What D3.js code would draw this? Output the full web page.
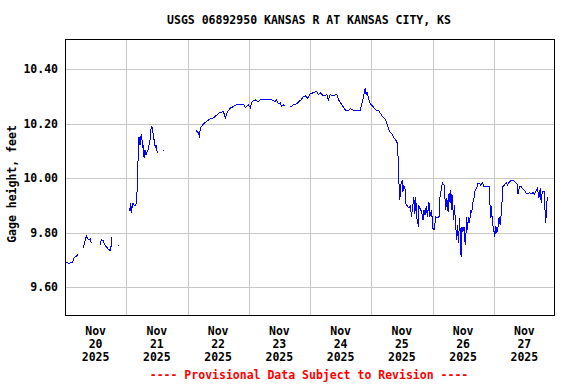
<!DOCTYPE html>
<html>
<head>
<meta charset="utf-8">
<script src="https://cdn.jsdelivr.net/npm/d3@7"></script>
<style>
  html, body { margin: 0; padding: 0; background: #fff; }
  svg text { font-family: "DejaVu Sans Mono", monospace; font-weight: bold; font-size: 11.5px; }
</style>
</head>
<body>
<div id="chart"></div>
<script>
// gage height readings, hours after 2025-11-20 00:00; null = no data (gap)
var hours = [
  0.2, 0.4, 1.8, 2.6, 3.1, 3.7, 4.2, 5.1, 6.1,
  7.1, 8.0, 8.4, 9.0, 9.5, 9.9, 10.3, 10.6, 12.0,
  13.7, 14.2, 15.0, 15.6, 16.8, 17.9, 18.3, 19.5,
  20.9, 23.0,
  25.2, 25.5, 25.8, 26.1, 26.4, 26.7, 27.2, 27.8,
  28.3, 28.4, 28.8, 29.0, 29.4, 29.7, 30.0, 30.4,
  30.7, 31.0, 31.3, 31.7, 32.6, 33.3, 33.8, 34.2,
  34.6, 34.9, 35.4, 35.7, 36.2, 37.3,
  38.5, 45.0,
  51.4, 52.4, 52.7, 53.0, 54.2, 55.6, 56.9, 58.2,
  59.5, 60.8, 62.1, 62.8, 63.6, 64.7, 66.0, 67.4,
  68.7, 70.0, 70.6, 71.9, 72.6, 73.3, 74.6, 75.5,
  76.5, 77.8, 80.2, 81.0, 82.3, 82.8, 83.6, 84.3,
  84.9, 85.6, 86.0, 87.1,
  88.2, 89.5, 90.8, 91.7, 92.7, 93.4, 94.3, 95.1,
  96.0, 97.3, 98.6, 99.3, 100.1, 101.3, 102.6, 103.2,
  103.9, 105.2, 106.5, 107.2, 108.5, 109.1, 110.0, 111.1,
  111.8, 113.1, 115.7, 116.3, 117.0, 117.6, 118.0, 118.3,
  118.9, 119.6, 120.9, 121.6, 123.0, 123.7, 124.6, 125.3,
  125.9, 126.7, 127.2, 128.0, 128.5, 129.3, 129.8, 130.3,
  130.6, 130.8, 131.2, 131.5, 132.2, 132.4, 132.8, 133.2,
  133.5, 134.1, 134.8, 135.3, 135.8, 136.1, 136.7, 137.1,
  137.4, 137.9, 138.5, 138.7, 139.4, 139.8, 140.3, 140.7,
  141.1, 141.6, 142.0, 142.6, 143.0, 143.7, 144.0, 144.6,
  145.3, 145.9, 146.6, 146.9, 147.5, 147.9, 148.5, 149.2,
  149.6, 150.1, 150.5, 150.9, 151.2, 151.5, 151.8, 152.2,
  152.6, 153.1, 153.5, 153.9, 154.2, 154.6, 154.9, 155.2,
  155.5, 155.9, 156.4, 156.8, 157.1, 157.4, 157.7, 158.1,
  158.5, 159.0, 159.4, 159.7, 160.3, 160.7, 161.4, 161.6,
  162.3, 162.9, 163.6, 164.2, 166.2, 166.6, 166.9, 167.1,
  167.5, 167.9, 168.4, 168.8, 169.2, 169.7, 170.1, 170.5,
  171.1, 171.5, 172.2, 172.9, 173.4, 173.9, 174.8, 175.8,
  176.6, 177.1, 177.5, 178.1, 178.8, 179.4, 180.1, 180.7,
  181.4, 182.1, 182.6, 183.4, 184.0, 184.7, 185.1, 185.7,
  186.2, 186.6, 187.0, 187.7, 188.0, 188.4, 188.6, 189.0
];
var gage = [
  9.664, 9.689, 9.688, 9.690, 9.694, 9.710, 9.711, 9.721, null,
  9.743, 9.774, 9.788, 9.777, 9.774, 9.777, 9.763, 9.761, null,
  9.755, 9.774, 9.771, 9.755, 9.741, 9.733, 9.783, null,
  9.755, null,
  9.890, 9.880, 9.908, 9.872, 9.906, 9.906, 9.898, 9.902,
  9.957, 10.049, 10.074, 10.150, 10.122, 10.153, 10.163, 10.110,
  10.122, 10.073, 10.104, 10.086, 10.104, 10.140, 10.189, 10.185,
  10.159, 10.141, 10.110, 10.122, 10.092, null,
  10.103, null,
  10.174, 10.166, 10.148, 10.183, 10.198, 10.210, 10.218, 10.222,
  10.232, 10.242, 10.244, 10.222, 10.243, 10.257, 10.263, 10.272,
  10.272, 10.271, 10.259, 10.269, 10.259, 10.281, 10.287, 10.281,
  10.287, 10.290, 10.290, 10.287, 10.281, 10.287, 10.273, 10.277,
  10.263, 10.269, 10.264, null,
  10.261, 10.269, 10.273, 10.281, 10.290, 10.299, 10.302, 10.294,
  10.309, 10.314, 10.318, 10.306, 10.313, 10.302, 10.306, 10.287,
  10.306, 10.302, 10.309, 10.287, 10.269, 10.261, 10.248, 10.248,
  10.256, 10.248, 10.248, 10.273, 10.299, 10.330, 10.306, 10.317,
  10.294, 10.273, 10.261, 10.251, 10.248, 10.236, 10.224, 10.220,
  10.208, 10.184, 10.171, 10.163, 10.155, 10.143, 10.138, 10.126,
  10.057, 9.994, 9.920, 9.975, 9.994, 9.951, 9.972, 9.964,
  9.908, 9.898, 9.890, 9.898, 9.859, 9.886, 9.930, 9.869,
  9.930, 9.853, 9.822, 9.896, 9.884, 9.872, 9.847, 9.884,
  9.865, 9.898, 9.859, 9.914, 9.859, 9.884, 9.817, 9.810,
  9.857, 9.854, 9.859, 9.930, 9.963, 9.982, 9.975, 9.884,
  9.927, 9.877, 9.945, 9.908, 9.957, 9.884, 9.939, 9.847,
  9.902, 9.822, 9.774, 9.829, 9.761, 9.853, 9.792, 9.712,
  9.822, 9.803, 9.822, 9.755, 9.792, 9.859, 9.810, 9.859,
  9.836, 9.884, 9.872, 9.908, 9.927, 9.957, 9.963, 9.982,
  9.982, 9.975, 9.982, 9.969, 9.969, 9.890, 9.853, 9.896,
  9.835, 9.817, 9.786, 9.825, 9.799, 9.822, 9.859, 9.829,
  9.884, 9.969, 9.975, 9.984, 9.975, 9.983, 9.991, 9.991,
  9.984, 9.979, 9.942, 9.969, 9.969, 9.960, 9.955, 9.945,
  9.942, 9.947, 9.942, 9.947, 9.942, 9.955, 9.963, 9.927,
  9.963, 9.908, 9.951, 9.951, 9.896, 9.835, 9.884, 9.930
];
var yTicks = [9.6, 9.8, 10.0, 10.2, 10.4];
var dayLabels = ["20", "21", "22", "23", "24", "25", "26", "27"];
var title = "USGS 06892950 KANSAS R AT KANSAS CITY, KS";
var yTitle = "Gage height, feet";
var footer = "---- Provisional Data Subject to Revision ----";

(function () {
  var W = 576, H = 384;
  var m = { l: 65, r: 21, t: 39, b: 68 };
  var w = W - m.l - m.r, h = H - m.t - m.b;
  var t0 = Date.UTC(2025, 10, 20);
  var HOUR = 3600e3;

  var data = hours.map(function (hr, i) {
    return { t: new Date(t0 + hr * HOUR), v: gage[i] };
  });

  var x = d3.scaleUtc().domain([new Date(t0), new Date(t0 + 192 * HOUR)]).range([0, w]);
  var y = d3.scaleLinear().domain([9.494, 10.511]).range([h, 0]);

  var svg = d3.select("#chart").append("svg")
    .attr("width", W).attr("height", H);
  var g = svg.append("g").attr("transform", "translate(" + m.l + "," + m.t + ")");

  // grid: midnights and the labelled feet
  var mids = d3.utcDay.range(new Date(t0 + HOUR), new Date(t0 + 192 * HOUR));
  g.append("g").selectAll("line").data(mids).join("line")
    .attr("x1", function (d) { return Math.round(x(d)) + 0.5; })
    .attr("x2", function (d) { return Math.round(x(d)) + 0.5; })
    .attr("y1", 0).attr("y2", h)
    .attr("stroke", "#c8c8c8").attr("shape-rendering", "crispEdges");
  g.append("g").selectAll("line").data(yTicks).join("line")
    .attr("x1", 0).attr("x2", w)
    .attr("y1", function (d) { return Math.round(y(d)) + 0.5; })
    .attr("y2", function (d) { return Math.round(y(d)) + 0.5; })
    .attr("stroke", "#c8c8c8").attr("shape-rendering", "crispEdges");

  // series, drawn aliased like the USGS plot
  var line = d3.line()
    .defined(function (d) { return d.v != null; })
    .x(function (d) { return x(d.t); })
    .y(function (d) { return y(d.v); });
  g.append("path").datum(data)
    .attr("d", line).attr("fill", "none")
    .attr("stroke", "#0000ff").attr("stroke-width", 1)
    .attr("shape-rendering", "crispEdges");

  // lone readings between gaps
  var lone = data.filter(function (d, i) {
    return d.v != null && (i === 0 || data[i - 1].v == null) &&
      (i === data.length - 1 || data[i + 1].v == null);
  });
  g.append("g").selectAll("rect").data(lone).join("rect")
    .attr("x", function (d) { return Math.round(x(d.t)); })
    .attr("y", function (d) { return Math.round(y(d.v)); })
    .attr("width", 1).attr("height", 1).attr("fill", "#0000ff")
    .attr("shape-rendering", "crispEdges");

  // frame
  g.append("rect").attr("x", 0.5).attr("y", 0.5).attr("width", w - 1).attr("height", h - 1)
    .attr("fill", "none").attr("stroke", "#000").attr("shape-rendering", "crispEdges");

  // y axis labels
  var ya = g.append("g").call(d3.axisLeft(y).tickValues(yTicks)
    .tickFormat(d3.format(".2f")).tickSize(0).tickPadding(7));
  ya.select(".domain").remove();
  ya.selectAll("text").attr("fill", "#000").style("font-family", null).style("font-size", null);

  // x labels at noon, three lines
  var noons = dayLabels.map(function (d, i) { return new Date(t0 + (i * 24 + 12) * HOUR); });
  var xl = g.append("g").selectAll("text").data(noons).join("text")
    .attr("text-anchor", "middle").attr("fill", "#000");
  [["Nov", 18.5], [null, 31.5], ["2025", 44.5]].forEach(function (row) {
    xl.append("tspan")
      .attr("x", function (d) { return x(d); })
      .attr("y", h + row[1])
      .text(function (d, i) { return row[0] || dayLabels[i]; });
  });

  svg.append("text").attr("x", 309).attr("y", 24).attr("text-anchor", "middle")
    .attr("fill", "#000").text(title);
  svg.append("text").attr("transform", "translate(16,184) rotate(-90)")
    .attr("text-anchor", "middle").attr("fill", "#000").text(yTitle);
  svg.append("text").attr("x", 309).attr("y", 379).attr("text-anchor", "middle")
    .attr("fill", "#ff0000").text(footer);
})();
</script>
</body>
</html>
